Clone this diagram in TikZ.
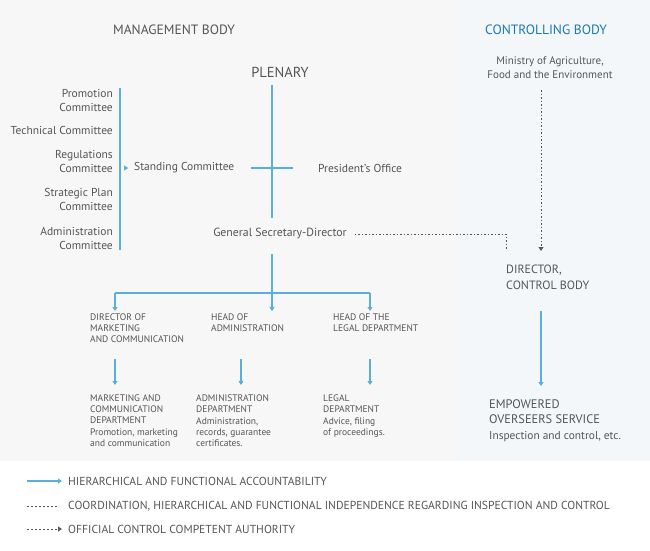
\documentclass[tikz,border=0pt]{standalone}
\usepackage{fontspec}
\setmainfont{PT Sans}
\usetikzlibrary{positioning, arrows.meta}

\definecolor{txtgray}{HTML}{555555}
\definecolor{lineblue}{HTML}{5AAEDC}
\definecolor{headblue}{HTML}{1A7AB5}
\definecolor{bggray}{HTML}{F7F7F7}
\definecolor{bgblue}{HTML}{F3F7FA}

\begin{document}
\begin{tikzpicture}[
    x=1pt, y=-1pt,
    every node/.style={
        text=txtgray,
        inner sep=0pt,
        font=\fontsize{11.5}{14}\selectfont
    },
    head/.style={font=\fontsize{13.5}{16}\selectfont},
    small/.style={font=\fontsize{9.5}{11}\selectfont, align=left, anchor=north west},
    legend/.style={anchor=west, font=\fontsize{11.6}{13}\selectfont},
    arrow/.style={-{Triangle[width=5pt,length=4pt]}, draw=lineblue, line width=1.3pt},
    conn/.style={draw=lineblue, line width=1.3pt},
    dotline/.style={draw=txtgray, line width=1pt, dash pattern=on 1.5pt off 2pt},
    dotarrow/.style={dotline, -{Triangle[width=5pt,length=4pt,fill=lineblue]}}
]
    \useasboundingbox (0,0) rectangle (650,550);
    \fill[bggray] (0,0) rectangle (458,461);
    \fill[bgblue] (458,0) rectangle (650,461);

    % headings
    \node[head] (mgmt) at (174,30) {MANAGEMENT BODY};
    \node[head, text=headblue] (ctrl) at (546,30) {CONTROLLING BODY};
    \node[align=center, font=\fontsize{11}{14}\selectfont] (ministry) at (550,68) {Ministry of Agriculture,\\Food and the Environment};
    \node[head, font=\fontsize{14.5}{16}\selectfont] (plenary) at (280,72) {PLENARY};

    % committees
    \node[anchor=east, align=right] (promo) at (113,100) {Promotion\\Committee};
    \node[anchor=east] (tech) at (113,130) {Technical Committee};
    \node[anchor=east, align=right] (regul) at (113,161) {Regulations\\Committee};
    \node[anchor=east, align=right] (strat) at (113,199) {Strategic Plan\\Committee};
    \node[anchor=east, align=right] (admin) at (113,238) {Administration\\Committee};

    \node[anchor=west] (standing) at (134,168) {Standing Committee};
    \node[anchor=west] (president) at (318,168) {President's Office};
    \node[font=\fontsize{11.8}{14}\selectfont] (gensec) at (280,233) {General Secretary-Director};

    % control body
    \node[anchor=north west, align=left, font=\fontsize{12}{16}\selectfont] (director) at (506,265) {DIRECTOR,\\CONTROL BODY};
    \node[anchor=north west, align=left, font=\fontsize{12.4}{15}\selectfont] (overseers) at (489,399) {EMPOWERED\\OVERSEERS SERVICE\\[1pt]{\fontsize{11.4}{15}\selectfont Inspection and control, etc.}};

    % heads
    \node[small] (dirmark) at (90,314) {DIRECTOR OF\\MARKETING\\AND COMMUNICATION};
    \node[small] (headadm) at (211,314) {HEAD OF\\ADMINISTRATION};
    \node[small] (headlegal) at (333,314) {HEAD OF THE\\LEGAL DEPARTMENT};

    % departments
    \node[small] (depmark) at (90,395) {MARKETING AND\\COMMUNICATION\\DEPARTMENT\\[1pt]Promotion, marketing\\and communication};
    \node[small] (depadm) at (196,395) {ADMINISTRATION\\DEPARTMENT\\[1pt]Administration,\\records, guarantee\\certificates.};
    \node[small] (deplegal) at (323,395) {LEGAL\\DEPARTMENT\\[1pt]Advice, filing\\of proceedings.};

    % plenary line and cross
    \coordinate (pTop) at (272,85);
    \coordinate (pBot) at (272,218);
    \coordinate (crossW) at (251,168);
    \coordinate (crossE) at (293,168);
    \draw[conn] (pTop) -- (pBot);
    \draw[conn] (crossW) -- (crossE);

    % committee bar
    \coordinate (barTop) at (120,88);
    \coordinate (barBot) at (120,250);
    \draw[conn] (barTop) -- (barBot);
    \coordinate (barArr) at (124,168);
    \coordinate (barTip) at (128,168);
    \draw[arrow, line width=0.1pt] (barArr) -- (barTip);

    % general secretary to heads
    \coordinate (gsBot) at (272,254);
    \coordinate (split) at (272,293);
    \coordinate (splitW) at (115,293);
    \coordinate (splitE) at (370,293);
    \draw[conn] (gsBot) -- (split);
    \draw[conn] (splitW) -- (splitE);
    \draw[arrow] (splitW) -- (115,311);
    \draw[arrow] (split) -- (272,311);
    \draw[arrow] (splitE) -- (370,311);

    % heads to departments
    \draw[arrow] (115,359) -- (115,385);
    \draw[arrow] (241,359) -- (241,385);
    \draw[arrow] (370,359) -- (370,385);

    % control body connectors
    \coordinate (dotCorner) at (506,234);
    \coordinate (dotEnd) at (506,250);
    \draw[dotline] (gensec.east) ++(8,1) -- (dotCorner) -- (dotEnd);
    \coordinate (minBot) at (541,90);
    \coordinate (dirTop) at (541,251);
    \draw[dotarrow] (minBot) -- (dirTop);
    \coordinate (dirBot) at (541,311);
    \coordinate (ovTop) at (541,386);
    \draw[arrow] (dirBot) -- (ovTop);

    % legend
    \node[legend] (leg1) at (68,481) {HIERARCHICAL AND FUNCTIONAL ACCOUNTABILITY};
    \node[legend] (leg2) at (68,506) {COORDINATION, HIERARCHICAL AND FUNCTIONAL INDEPENDENCE REGARDING INSPECTION AND CONTROL};
    \node[legend] (leg3) at (68,529) {OFFICIAL CONTROL COMPETENT AUTHORITY};
    \draw[arrow] (27,481) -- (62,481);
    \draw[dotline, dash pattern=on 2pt off 2pt] (27,506) -- (58,506);
    \draw[dotarrow, dash pattern=on 2pt off 2pt] (27,529) -- (62,529);

\end{tikzpicture}
\end{document}
